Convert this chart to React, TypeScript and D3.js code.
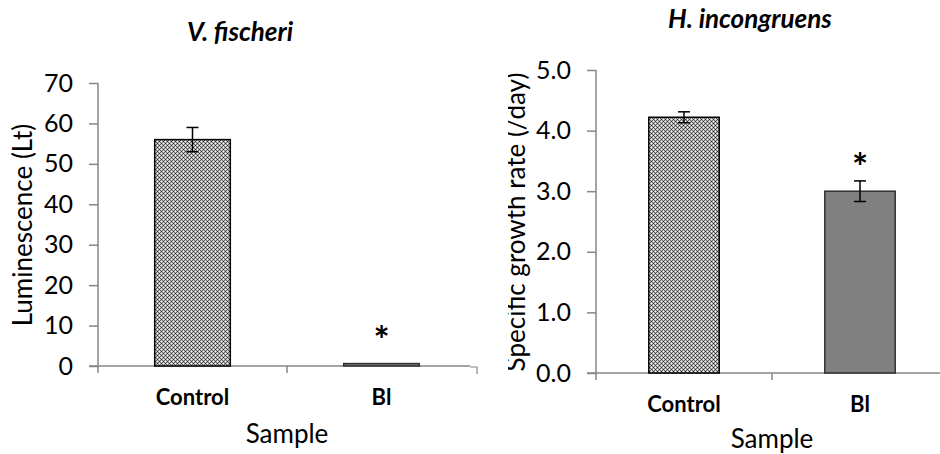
import React, { useEffect, useRef } from "react";
import * as d3 from "d3";

// values
const categories = ["Control", "Bl"];
const vfMeans = [56, 0.6];
const vfErrors = [3, 0];
const hiMeans = [4.22, 3.0];
const hiErrors = [0.09, 0.17];
const significant = [false, true];
const vfTicks = [0, 10, 20, 30, 40, 50, 60, 70];
const hiTicks = [0, 1, 2, 3, 4, 5];

const FONT = "Lato, 'Open Sans', sans-serif";

export default function App() {
  const ref = useRef<SVGSVGElement>(null);

  useEffect(() => {
    const svg = d3.select(ref.current);
    svg.selectAll("*").remove();

    const defs = svg.append("defs");

    // small diamond-grid pattern used for the Control bars
    const pat = defs
      .append("pattern")
      .attr("id", "grid")
      .attr("patternUnits", "userSpaceOnUse")
      .attr("width", 4)
      .attr("height", 4)
      .attr("shape-rendering", "crispEdges");
    pat.append("rect").attr("width", 4).attr("height", 4).attr("fill", "#6a6a6a");
    [[1, 1], [3, 3]].forEach(([x, y]) =>
      pat.append("rect").attr("x", x).attr("y", y).attr("width", 1).attr("height", 1).attr("fill", "#fff")
    );
    [[0, 1], [1, 0], [2, 1], [1, 2], [3, 2], [2, 3], [0, 3], [3, 0]].forEach(([x, y]) =>
      pat.append("rect").attr("x", x).attr("y", y).attr("width", 1).attr("height", 1).attr("fill", "#b8b8b8")
    );
    [[3, 1], [1, 3]].forEach(([x, y]) =>
      pat.append("rect").attr("x", x).attr("y", y).attr("width", 1).attr("height", 1).attr("fill", "#2a2a2a")
    );

    defs
      .append("clipPath")
      .attr("id", "leftClip")
      .append("rect")
      .attr("x", 0)
      .attr("y", 0)
      .attr("width", 470)
      .attr("height", 454);
    defs
      .append("clipPath")
      .attr("id", "labelClip")
      .append("rect")
      .attr("x", 508)
      .attr("y", 0)
      .attr("width", 100)
      .attr("height", 454);

    const panels = [
      {
        title: "V. fischeri",
        titleX: 240,
        titleY: 41,
        yLabel: "Luminescence (Lt)",
        yLabelX: 32,
        yLabelY: 225,
        domain: [0, 70],
        ticks: vfTicks,
        fmt: d3.format("d"),
        means: vfMeans,
        errors: vfErrors,
        xRange: [98, 476],
        yRange: [366, 83],
        catLabelY: 405,
        sampleX: 287,
        sampleY: 443,
        clip: "url(#leftClip)" as string | null,
        labelClip: null as string | null,
      },
      {
        title: "H. incongruens",
        titleX: 750,
        titleY: 28,
        yLabel: "Specific growth rate (/day)",
        yLabelX: 525,
        yLabelY: 222,
        domain: [0, 5],
        ticks: hiTicks,
        fmt: d3.format(".1f"),
        means: hiMeans,
        errors: hiErrors,
        xRange: [596, 948],
        yRange: [373, 70],
        catLabelY: 412,
        sampleX: 772,
        sampleY: 448,
        clip: null as string | null,
        labelClip: "url(#labelClip)" as string | null,
      },
    ];

    panels.forEach(p => {
      const g = svg.append("g").attr("clip-path", p.clip);

      const x = d3.scaleBand().domain(categories).range(p.xRange).padding(0);
      const y = d3.scaleLinear().domain(p.domain).range(p.yRange);
      const barW = x.bandwidth() * 0.4;

      // title
      g.append("text")
        .attr("x", p.titleX)
        .attr("y", p.titleY)
        .attr("text-anchor", "middle")
        .attr("font-family", FONT)
        .attr("font-weight", "bold")
        .attr("font-style", "italic")
        .attr("font-size", 26)
        .text(p.title);

      // y axis
      const yAxis = g
        .append("g")
        .attr("transform", `translate(${p.xRange[0]},0)`)
        .call(d3.axisLeft(y).tickValues(p.ticks).tickSize(9).tickPadding(16).tickFormat(p.fmt as any));
      yAxis.selectAll("line, path").attr("stroke", "#868686").attr("stroke-width", 1.5);
      yAxis.select(".domain").attr("d", `M0,${p.yRange[1]}V${p.yRange[0]}`);
      yAxis
        .selectAll("text")
        .attr("font-family", FONT)
        .attr("font-size", 25)
        .attr("fill", "#000");

      // x axis
      const xAxis = g
        .append("g")
        .attr("transform", `translate(0,${p.yRange[0]})`)
        .call(d3.axisBottom(x).tickSize(0).tickFormat(() => ""));
      xAxis
        .select(".domain")
        .attr("d", `M${p.xRange[0] - 9},0H${p.xRange[1]}`)
        .attr("stroke", "#868686")
        .attr("stroke-width", 1.5);
      xAxis.selectAll(".tick").remove();
      xAxis
        .selectAll("line.sep")
        .data([p.xRange[0], ...categories.map(c => (x(c) as number) + x.bandwidth())])
        .join("line")
        .attr("class", "sep")
        .attr("x1", d => d)
        .attr("x2", d => d)
        .attr("y1", 0)
        .attr("y2", 7)
        .attr("stroke", "#868686")
        .attr("stroke-width", 1.5);

      // category labels
      g.selectAll("text.cat")
        .data(categories)
        .join("text")
        .attr("class", "cat")
        .attr("x", d => (x(d) as number) + x.bandwidth() / 2)
        .attr("y", p.catLabelY)
        .attr("text-anchor", "middle")
        .attr("font-family", FONT)
        .attr("font-weight", "bold")
        .attr("font-size", 22)
        .text(d => d);

      // bars
      g.selectAll("rect.bar")
        .data(categories)
        .join("rect")
        .attr("class", "bar")
        .attr("x", d => (x(d) as number) + (x.bandwidth() - barW) / 2)
        .attr("width", barW)
        .attr("y", (d, i) => y(p.means[i]))
        .attr("height", (d, i) => y(0) - y(p.means[i]))
        .attr("fill", (d, i) => (i === 0 ? "url(#grid)" : "#808080"))
        .attr("stroke", (d, i) => (i === 0 ? "#000" : "#303030"))
        .attr("stroke-width", 1.5);

      // error bars
      categories.forEach((c, i) => {
        if (!p.errors[i]) return;
        const cx = (x(c) as number) + x.bandwidth() / 2;
        const top = y(p.means[i] + p.errors[i]);
        const bot = y(p.means[i] - p.errors[i]);
        const eb = g.append("g").attr("stroke", "#000").attr("stroke-width", 1.5);
        eb.append("line").attr("x1", cx).attr("x2", cx).attr("y1", top).attr("y2", bot);
        eb.append("line").attr("x1", cx - 6).attr("x2", cx + 6).attr("y1", top).attr("y2", top);
        eb.append("line").attr("x1", cx - 6).attr("x2", cx + 6).attr("y1", bot).attr("y2", bot);
      });

      // significance stars, 30px above the bar top
      categories.forEach((c, i) => {
        if (!significant[i]) return;
        const cx = (x(c) as number) + x.bandwidth() / 2;
        g.append("text")
          .attr("x", cx)
          .attr("y", y(p.means[i]) - 30 + 20)
          .attr("text-anchor", "middle")
          .attr("font-family", FONT)
          .attr("font-weight", "bold")
          .attr("font-size", 38)
          .text("*");
      });

      // axis titles
      g.append("text")
        .attr("x", p.sampleX)
        .attr("y", p.sampleY)
        .attr("text-anchor", "middle")
        .attr("font-family", FONT)
        .attr("font-size", 26)
        .text("Sample");

      const lab = p.labelClip ? svg.append("g").attr("clip-path", p.labelClip) : g;
      lab
        .append("text")
        .attr("transform", `translate(${p.yLabelX},${p.yLabelY}) rotate(-90)`)
        .attr("text-anchor", "middle")
        .attr("font-family", FONT)
        .attr("font-size", 26)
        .text(p.yLabel);
    });

    // leftover corner mark from the neighbouring frame
    svg
      .append("path")
      .attr("d", "M470,367H477V374")
      .attr("fill", "none")
      .attr("stroke", "#868686")
      .attr("stroke-width", 1.2);
  }, []);

  return (
    <svg
      ref={ref}
      width={940}
      height={454}
      style={{ position: "absolute", left: 0, top: 0, background: "#fff" }}
    />
  );
}
